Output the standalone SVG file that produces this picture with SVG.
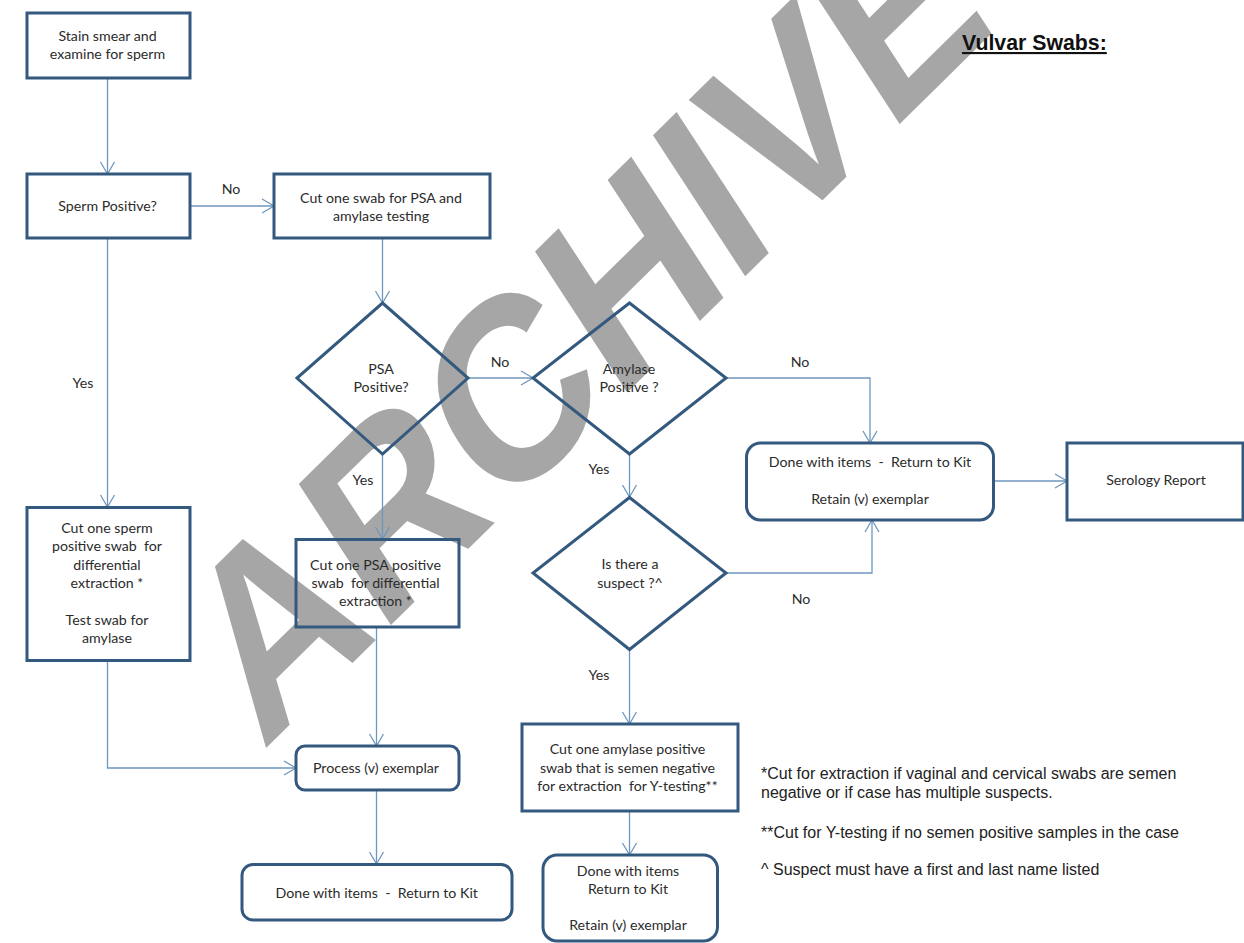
<svg xmlns="http://www.w3.org/2000/svg" width="1244" height="943" viewBox="0 0 1244 943">
<style>
.n{fill:none;stroke:#34597f;stroke-width:3}
.c{fill:none;stroke:#6f97bd;stroke-width:1.3}
text{font-family:"Lato","Liberation Sans",sans-serif;font-size:14.2px;fill:#2b2b2b;text-anchor:middle;white-space:pre}
.f{font-family:"Liberation Sans",Arial,sans-serif;font-size:16px;text-anchor:start;fill:#222}
.w{font-family:"Liberation Sans",Arial,sans-serif;font-weight:bold;font-size:100px;fill:#a6a6a6;text-anchor:start}
.t{font-family:"Liberation Sans",Arial,sans-serif;font-weight:bold;font-size:21.300px;fill:#111;text-anchor:start;text-decoration:underline}
</style>
<defs>
<marker id="a" markerUnits="userSpaceOnUse" markerWidth="16" markerHeight="18" refX="14" refY="9" orient="auto"><path d="M2 2 L14 9 L2 16" fill="none" stroke="#6f97bd" stroke-width="1.3"/></marker>
</defs>
<rect width="1244" height="943" fill="#fff"/>
<text class="w" transform="matrix(1.635 -1.61 1.34 2.05 262 752)">ARCHIVE</text>
<g id="connectors">
<path class="c" marker-end="url(#a)" d="M107.500 78V174"/>
<path class="c" marker-end="url(#a)" d="M190 206H274"/>
<path class="c" marker-end="url(#a)" d="M107.500 238V507"/>
<path class="c" marker-end="url(#a)" d="M382.500 238V303"/>
<path class="c" marker-end="url(#a)" d="M468 378H533"/>
<path class="c" marker-end="url(#a)" d="M382.500 454V539"/>
<path class="c" marker-end="url(#a)" d="M726 378H870V443"/>
<path class="c" marker-end="url(#a)" d="M629.500 454V497"/>
<path class="c" marker-end="url(#a)" d="M726 573H872V520"/>
<path class="c" marker-end="url(#a)" d="M993.500 481H1067"/>
<path class="c" marker-end="url(#a)" d="M629.500 649V724"/>
<path class="c" marker-end="url(#a)" d="M629.500 811V855"/>
<path class="c" marker-end="url(#a)" d="M376.500 627V746"/>
<path class="c" marker-end="url(#a)" d="M107.500 660V768H296"/>
<path class="c" marker-end="url(#a)" d="M376.500 790V864"/>
</g>
<g id="labels">
<text x="231" y="194">No</text>
<text x="83" y="388">Yes</text>
<text x="500" y="367">No</text>
<text x="800" y="367">No</text>
<text x="363" y="485">Yes</text>
<text x="599" y="474">Yes</text>
<text x="801" y="604">No</text>
<text x="599" y="680">Yes</text>
</g>
<g id="n1"><rect class="n" x="27" y="13" width="163" height="65"/><text x="107.500" y="41">Stain smear and</text><text x="107.500" y="59">examine for sperm</text></g>
<g id="n2"><rect class="n" x="27" y="174" width="163" height="64"/><text x="107.500" y="211">Sperm Positive?</text></g>
<g id="n3"><rect class="n" x="274" y="174" width="216" height="64"/><text x="381" y="203">Cut one swab for PSA and</text><text x="381" y="221">amylase testing</text></g>
<g id="n4"><path class="n" d="M382.500 303L468 378L382.500 454L297 378Z"/><text x="381" y="374">PSA</text><text x="381" y="392">Positive?</text></g>
<g id="n5"><path class="n" d="M629.500 303L726 378L629.500 454L533 378Z"/><text x="629" y="374">Amylase</text><text x="629" y="392">Positive ?</text></g>
<g id="n6"><rect class="n" x="746.500" y="443" width="247" height="77" rx="14"/><text x="870" y="467">Done with items  -  Return to Kit</text><text x="870" y="503.500">Retain (v) exemplar</text></g>
<g id="n7"><rect class="n" x="1067" y="443" width="176" height="77"/><text x="1156" y="485">Serology Report</text></g>
<g id="n8"><path class="n" d="M629.500 497.500L726 573L629.500 649.500L533 573Z"/><text x="630" y="569">Is there a</text><text x="630" y="587.500">suspect ?^</text></g>
<g id="n9"><rect class="n" x="522" y="724" width="216" height="87"/><text x="627.500" y="754">Cut one amylase positive</text><text x="627.500" y="772.500">swab that is semen negative</text><text x="627.500" y="790.500">for extraction  for Y-testing**</text></g>
<g id="n10"><rect class="n" x="543" y="855" width="174.500" height="86" rx="14"/><text x="628" y="875.500">Done with items</text><text x="628" y="893.500">Return to Kit</text><text x="628" y="930">Retain (v) exemplar</text></g>
<g id="n11"><rect class="n" x="27" y="507.500" width="163" height="153"/><text x="107" y="533">Cut one sperm</text><text x="107" y="551">positive swab  for</text><text x="107" y="570">differential</text><text x="107" y="588">extraction *</text><text x="107" y="625">Test swab for</text><text x="107" y="643">amylase</text></g>
<g id="n12"><rect class="n" x="296" y="539.500" width="163" height="87.500"/><text x="375.500" y="570">Cut one PSA positive</text><text x="375.500" y="588">swab  for differential</text><text x="375.500" y="606">extraction *</text></g>
<g id="n13"><rect class="n" x="296" y="746" width="163" height="44" rx="9"/><text x="376" y="772.700">Process (v) exemplar</text></g>
<g id="n14"><rect class="n" x="242" y="864.500" width="270" height="55.500" rx="11"/><text x="376.700" y="898">Done with items  -  Return to Kit</text></g>
<g id="notes">
<text class="t" x="962" y="50">Vulvar Swabs:</text>
<text class="f" x="761" y="779">*Cut for extraction if vaginal and cervical swabs are semen</text>
<text class="f" x="761" y="798">negative or if case has multiple suspects.</text>
<text class="f" x="761" y="837.500">**Cut for Y-testing if no semen positive samples in the case</text>
<text class="f" x="761" y="875">^ Suspect must have a first and last name listed</text>
</g>
</svg>
